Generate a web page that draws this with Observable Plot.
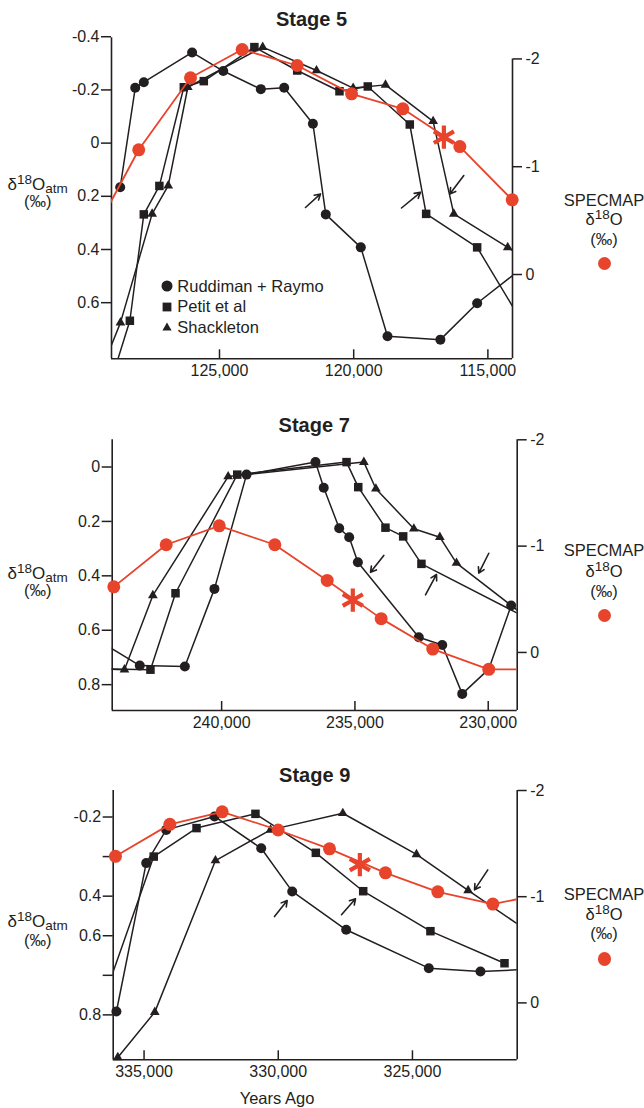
<!DOCTYPE html>
<html><head><meta charset="utf-8">
<script src="https://cdn.jsdelivr.net/npm/d3@7"></script>
<script src="https://cdn.jsdelivr.net/npm/@observablehq/plot@0.6"></script>
<style>
body{margin:0;background:#fff;font-family:"Liberation Sans",Arial,Helvetica,sans-serif;color:#231f20}
#root{position:relative;width:644px;height:1108px;overflow:hidden;background:#fff}
.layer{position:absolute;left:0;width:644px}
.layer svg{position:absolute;left:0;top:0;display:block;background:transparent}
.t{position:absolute;white-space:nowrap;line-height:1;transform:translateX(-50%)}
.title{font-weight:bold;font-size:20px}
.lab{font-size:16.5px}
.tight{line-height:12px}
.big{font-size:17px}
.sup{font-size:13.5px;position:relative;top:-6px;line-height:0}
.sub{font-size:13.5px;position:relative;top:3px;line-height:0}
</style></head><body><div id="root"></div>
<script>
// ---------------- data (years ago, value) ----------------
// Stage 5
const s5Ruddiman = [[128700,0.166],[128140,-0.208],[127820,-0.229],[126020,-0.341],[124860,-0.271],[123460,-0.203],[122590,-0.208],[121520,-0.073],[121040,0.268],[119735,0.392],[118740,0.726],[116770,0.739],[115400,0.602],[113040,0.416]];
const s5Petit = [[128930,0.859],[128340,0.668],[127820,0.268],[127240,0.161],[126330,-0.210],[125585,-0.233],[123700,-0.361],[122105,-0.273],[120530,-0.195],[119475,-0.213],[117910,-0.070],[117300,0.266],[115400,0.392],[113410,0.727]];
const s5Shackleton = [[129250,0.816],[128690,0.675],[127510,0.266],[126910,0.160],[126180,-0.210],[123390,-0.361],[121385,-0.273],[120020,-0.207],[118815,-0.219],[117040,-0.082],[116270,0.266],[114260,0.392],[113410,0.445]];
const s5Specmap = [[129430,-0.497],[128010,-1.157],[126080,-1.825],[124155,-2.087],[122105,-1.939],[120080,-1.676],[118170,-1.537],[116045,-1.187],[114095,-0.693]];
const s5Star = [[116640,-1.274]];
const s5Arrows = [[121796,0.242,121237,0.191],[118219,0.244,117511,0.185],[115897,0.122,116419,0.191]];
const s5YTicks = [-0.4,-0.2,0,0.2,0.4,0.6];
const s5YLabels = ["-0.4","-0.2","0","0.2","0.4","0.6"];
const s5XTicks = [125000,120000,115000];

// Stage 7
const s7Ruddiman = [[244544,0.642],[243070,0.730],[241380,0.733],[240270,0.448],[239065,0.028],[236480,-0.018],[236170,0.076],[235590,0.225],[235215,0.258],[234890,0.350],[232605,0.626],[231725,0.654],[230975,0.834],[229980,0.743],[229140,0.509]];
const s7Petit = [[244544,0.742],[242670,0.745],[241730,0.464],[239415,0.028],[235315,-0.018],[234875,0.074],[233855,0.223],[233190,0.255],[232505,0.356],[228415,0.562]];
const s7Shackleton = [[244544,0.742],[243645,0.745],[242580,0.472],[239755,0.035],[234665,-0.018],[234215,0.080],[232790,0.227],[231815,0.258],[231190,0.353],[228415,0.564]];
const s7Specmap = [[244045,-0.617],[242080,-1.013],[240090,-1.191],[238005,-1.013],[236040,-0.677],[234015,-0.318],[232080,-0.032],[229980,0.159],[228415,0.159]];
const s7Star = [[235080,-0.493]];
const s7Arrows = [[233917,0.325,234416,0.387],[232353,0.470,231940,0.395],[229979,0.317,230354,0.390]];
const s7YTicks = [0,0.2,0.4,0.6,0.8];
const s7YLabels = ["0","0.2","0.4","0.6","0.8"];
const s7XTicks = [240000,235000,230000];

// Stage 9
const s9Ruddiman = [[336030,0.783],[334920,0.033],[334175,-0.135],[332375,-0.203],[330635,-0.042],[329480,0.176],[327470,0.370],[324390,0.564],[322465,0.581],[320600,0.569]];
const s9Petit = [[336325,0.648],[334640,0.000],[333045,-0.144],[330850,-0.216],[328600,-0.019],[326835,0.175],[324330,0.377],[321570,0.539]];
const s9Shackleton = [[335980,1.015],[334600,0.786],[332340,0.020],[330290,-0.135],[327595,-0.219],[324850,-0.011],[322925,0.171],[320600,0.385]];
const s9Specmap = [[336065,-1.380],[334040,-1.681],[332090,-1.799],[330005,-1.628],[328090,-1.451],[326005,-1.225],[324055,-1.046],[322005,-0.930],[320600,-1.002]];
const s9Star = [[326960,-1.302]];
const s9Arrows = [[330140,0.303,329667,0.222],[327644,0.294,327122,0.213],[322193,0.067,322688,0.168]];
const s9YTicks = [-0.2,0,0.2,0.4,0.6,0.8];
const s9YLabels = ["-0.2","","0.4","0.6","","0.8"];
const s9XTicks = [335000,330000,325000];

const rightTicks = [-2,-1,0];
const rightLabels = ["-2","-1","0"];
const stageNames = ["Stage 5","Stage 7","Stage 9"];
const legendNames = ["Ruddiman + Raymo","Petit et al","Shackleton"];
const xTitle = "Years Ago";

// ---------------- layout ----------------
const W = 644;
const FONT = '"Liberation Sans", Arial, Helvetica, sans-serif';
const INK = "#231f20";
const RED = "#e8442c";

const panels = [
  {top:0, height:395, left:111, right:512, frameTop:37.3, frameBottom:358.3,
   xDomain:[129024,114083], yDomain:[-0.396,0.811], rDomain:[-2.196,0.782],
   yTicks:s5YTicks, yLabels:s5YLabels, xTicks:s5XTicks,
   rr:s5Ruddiman, pe:s5Petit, sh:s5Shackleton, sp:s5Specmap, star:s5Star, arrows:s5Arrows,
   titleY:18.5, lab1:190.7, lab2:206.5, rlab:[206,225,245], rdot:263.3},
  {top:400, height:340, left:111.7, right:516.7, frameTop:439.3, frameBottom:710,
   xDomain:[244105,228913], yDomain:[-0.1,0.895], rDomain:[-2,0.546],
   yTicks:s7YTicks, yLabels:s7YLabels, xTicks:s7XTicks,
   rr:s7Ruddiman, pe:s7Petit, sh:s7Shackleton, sp:s7Specmap, star:s7Star, arrows:s7Arrows,
   titleY:425, lab1:580, lab2:596, rlab:[556,576.7,597], rdot:615.7},
  {top:750, height:345, left:112.7, right:516.7, frameTop:790, frameBottom:1059.3,
   xDomain:[336150,321097], yDomain:[-0.334,1.027], rDomain:[-2,0.536],
   yTicks:s9YTicks, yLabels:s9YLabels, xTicks:s9XTicks,
   rr:s9Ruddiman, pe:s9Petit, sh:s9Shackleton, sp:s9Specmap, star:s9Star, arrows:s9Arrows,
   titleY:775, lab1:928.3, lab2:946, rlab:[899.5,920,939], rdot:959}
];

const root = document.getElementById("root");
const fmt = d3.format(",");

function addText(cls, html, x, top) {
  const d = document.createElement("div");
  d.className = "t " + cls;
  d.innerHTML = html;
  d.style.left = x + "px";
  d.style.top = top + "px";
  root.appendChild(d);
  return d;
}

panels.forEach((p, k) => {
  const layer = document.createElement("div");
  layer.className = "layer";
  layer.style.top = p.top + "px";
  layer.style.height = p.height + "px";
  root.appendChild(layer);

  const mT = p.frameTop - p.top, mB = p.top + p.height - p.frameBottom;
  const mL = p.left, mR = W - p.right;
  const inX = d => d[0] <= p.xDomain[0] && d[0] >= p.xDomain[1];
  const inXY = d => inX(d) && d[1] >= p.yDomain[0] && d[1] <= p.yDomain[1];
  const yMap = new Map(p.yTicks.map((t, i) => [t, p.yLabels[i]]));
  const rMap = new Map(rightTicks.map((t, i) => [t, rightLabels[i]]));
  const style = {background:"transparent", fontFamily:FONT, fontSize:"16px", color:INK, overflow:"visible"};
  const X = d => d[0], Y = d => d[1];

  const leftPlot = Plot.plot({
    width: W, height: p.height, marginLeft: mL, marginRight: mR, marginTop: mT, marginBottom: mB,
    style,
    x: {domain: p.xDomain},
    y: {domain: p.yDomain, reverse: true},
    marks: [
      Plot.axisY({ticks: p.yTicks, tickFormat: d => yMap.get(d), tickSize: 10, tickPadding: 2, strokeWidth: 1.5, label: null}),
      Plot.axisX({ticks: p.xTicks, tickFormat: fmt, tickSize: 9, dy: -9, tickPadding: 6, strokeWidth: 1.5, label: null}),
      Plot.ruleX([p.xDomain[0]], {stroke: INK, strokeWidth: 1.6}),
      Plot.ruleY([p.yDomain[1]], {stroke: INK, strokeWidth: 1.6}),
      Plot.line(p.rr, {x: X, y: Y, stroke: INK, strokeWidth: 1.5, clip: true}),
      Plot.line(p.pe, {x: X, y: Y, stroke: INK, strokeWidth: 1.5, clip: true}),
      Plot.line(p.sh, {x: X, y: Y, stroke: INK, strokeWidth: 1.5, clip: true}),
      Plot.dot(p.rr, {x: X, y: Y, filter: inXY, symbol: "circle", r: 5, fill: INK}),
      Plot.dot(p.pe, {x: X, y: Y, filter: inXY, symbol: "square", r: 4.8, fill: INK}),
      Plot.dot(p.sh, {x: X, y: Y, filter: inXY, symbol: "triangle", r: 3.6, fill: INK}),
      Plot.arrow(p.arrows, {x1: d => d[0], y1: d => d[1], x2: d => d[2], y2: d => d[3], stroke: INK, strokeWidth: 1.6, headLength: 6, headAngle: 60})
    ]
  });

  const rightPlot = Plot.plot({
    width: W, height: p.height, marginLeft: mL, marginRight: mR, marginTop: mT, marginBottom: mB,
    style,
    x: {domain: p.xDomain, axis: null},
    y: {domain: p.rDomain, reverse: true, axis: null},
    marks: [
      Plot.axisY({anchor: "right", ticks: rightTicks, tickFormat: d => rMap.get(d), tickSize: 9, tickPadding: 4, strokeWidth: 1.5, label: null}),
      Plot.ruleX([p.xDomain[1]], {y1: rightTicks[0], y2: p.rDomain[1], stroke: INK, strokeWidth: 1.6}),
      Plot.line(p.sp, {x: X, y: Y, stroke: RED, strokeWidth: 1.8, clip: true}),
      Plot.dot(p.sp, {x: X, y: Y, filter: inX, r: 6.5, fill: RED}),
      Plot.dot(p.star, {x: X, y: Y, symbol: "asterisk", r: 11, stroke: RED, strokeWidth: 4.2, fill: "none"})
    ]
  });

  layer.appendChild(leftPlot);
  layer.appendChild(rightPlot);

  // title
  addText("title", stageNames[k], (p.left + p.right) / 2, p.titleY - 10);
  // left axis label
  addText("big tight", 'δ<span class="sup">18</span>O<span class="sub">atm</span>', 37.7, p.lab1 - 11.9);
  addText("lab tight", '(‰)', 37.7, p.lab2 - 11.7);
  // right axis label + key
  addText("lab tight", 'SPECMAP', 604, p.rlab[0] - 11.7);
  addText("lab tight", 'δ<span class="sup">18</span>O', 604, p.rlab[1] - 11.7);
  addText("lab tight", '(‰)', 604, p.rlab[2] - 11.7);
  const dot = document.createElement("div");
  Object.assign(dot.style, {position:"absolute", left:(604.5-6.7)+"px", top:(p.rdot-6.7)+"px", width:"13.4px", height:"13.4px", borderRadius:"50%", background:RED});
  root.appendChild(dot);
});

// legend (Stage 5)
const legendRows = [286, 306.5, 327];
const swatches = [
  '<circle cx="7" cy="7" r="5.5" fill="' + INK + '"/>',
  '<rect x="2.6" y="2.6" width="8.8" height="8.8" fill="' + INK + '"/>',
  '<path d="M7,2.6 L11.6,10.6 L2.4,10.6 Z" fill="' + INK + '"/>'
];
legendRows.forEach((y, i) => {
  const s = document.createElementNS("http://www.w3.org/2000/svg", "svg");
  s.setAttribute("width", 14); s.setAttribute("height", 14);
  s.style.position = "absolute"; s.style.left = (166.5 - 7) + "px"; s.style.top = (y - 7) + "px";
  s.innerHTML = swatches[i];
  root.appendChild(s);
  const d = document.createElement("div");
  d.className = "t lab";
  d.style.transform = "none";
  d.style.left = "177.3px";
  d.style.top = (y + 5.9 - 14) + "px";
  d.textContent = legendNames[i];
  root.appendChild(d);
});

// x axis title
addText("lab", xTitle, 277, 1104 - 14);
</script>
</body></html>
